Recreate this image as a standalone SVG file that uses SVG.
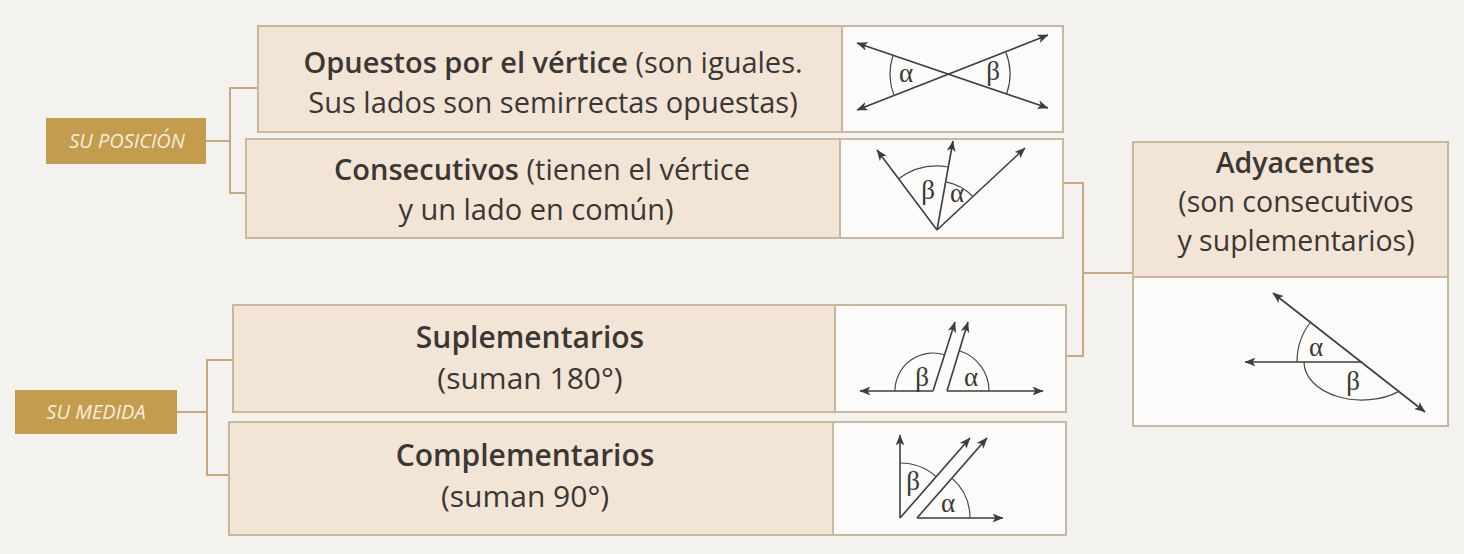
<svg xmlns="http://www.w3.org/2000/svg" width="1464" height="554" viewBox="0 0 1464 554">
<style>
.bg{fill:#f4f2ee}
.cell{fill:#f2e5d6;stroke:#cbb89c;stroke-width:2}
.fig{fill:#fbfbf9;stroke:#cbb89c;stroke-width:2}
.lab{fill:#c49c4e}
.labt{font-family:"Open Sans","Noto Sans",sans-serif;font-style:italic;font-weight:500;font-size:20px;fill:#f7eedc;text-anchor:middle}
.t{font-family:"Open Sans","Noto Sans",sans-serif;font-size:29px;fill:#3a3734;text-anchor:middle}
.b{font-weight:600}
.conn{fill:none;stroke:#c7aa7c;stroke-width:2}
.ln{fill:none;stroke:#3f3d3b;stroke-width:1.6}
.arc{fill:none;stroke:#4a4846;stroke-width:1.2}
.g{font-family:"Liberation Serif","DejaVu Serif",serif;font-size:27px;fill:#3a3734;text-anchor:middle}
</style>
<defs>
<marker id="ah" viewBox="0 0 10 8" refX="9.5" refY="4" markerWidth="11" markerHeight="9" orient="auto-start-reverse" markerUnits="userSpaceOnUse">
<path d="M0,0 L10,4 L0,8 L2.5,4 z" fill="#3f3d3b"/>
</marker>
</defs>
<rect class="bg" x="0" y="0" width="1464" height="554"/>

<g id="connectors">
<path class="conn" d="M206,141 H230 M258,88 H230 V193 H246"/>
<path class="conn" d="M177,412 H207 M233,360 H207 V475 H229"/>
<path class="conn" d="M1063,183 H1083 V356 H1066 M1083,273 H1133"/>
</g>

<g id="label-posicion">
<rect class="lab" x="46" y="118" width="160" height="46"/>
<text class="labt" x="127" y="148">SU POSICIÓN</text>
</g>

<g id="label-medida">
<rect class="lab" x="15" y="390" width="162" height="44"/>
<text class="labt" x="96" y="419">SU MEDIDA</text>
</g>

<g id="row-opuestos">
<rect class="cell" x="258" y="26" width="805" height="106"/>
<rect class="fig" x="842" y="26" width="221" height="106"/>
<text class="t" x="553" y="73"><tspan class="b">Opuestos por el vértice</tspan> (son iguales.</text>
<text class="t" x="553" y="113">Sus lados son semirrectas opuestas)</text>
<g transform="translate(0,5)">
<line class="ln" x1="857" y1="38" x2="1048" y2="103" marker-start="url(#ah)" marker-end="url(#ah)"/>
<line class="ln" x1="857" y1="105" x2="1048" y2="30" marker-start="url(#ah)" marker-end="url(#ah)"/>
<path class="arc" d="M893.1,50 A60,60 0 0 0 894.1,90.7"/>
<path class="arc" d="M1005.7,46.8 A60,60 0 0 1 1006.7,88.7"/>
<text class="g" x="906" y="77">α</text>
<text class="g" x="993" y="75">β</text>
</g>
</g>

<g id="row-consecutivos">
<rect class="cell" x="246" y="139" width="817" height="99"/>
<rect class="fig" x="840" y="139" width="223" height="99"/>
<text class="t" x="542" y="180"><tspan class="b">Consecutivos</tspan> (tienen el vértice</text>
<text class="t" x="536" y="220">y un lado en común)</text>
<g transform="translate(0,3)">
<line class="ln" x1="937" y1="227" x2="877" y2="147" marker-end="url(#ah)"/>
<line class="ln" x1="937" y1="227" x2="953" y2="138" marker-end="url(#ah)"/>
<line class="ln" x1="937" y1="227" x2="1025" y2="145" marker-end="url(#ah)"/>
<path class="arc" d="M898.6,175.8 A64,64 0 0 1 948.3,164"/>
<path class="arc" d="M945.7,178.8 A49,49 0 0 1 972.9,193.6"/>
<text class="g" x="928" y="196">β</text>
<text class="g" x="957" y="199">α</text>
</g>
</g>

<g id="row-suplementarios">
<rect class="cell" x="233" y="305" width="833" height="107"/>
<rect class="fig" x="835" y="305" width="231" height="107"/>
<text class="t b" x="530" y="348" style="font-size:30px">Suplementarios</text>
<text class="t" x="530" y="389" style="font-size:30px">(suman 180°)</text>
<line class="ln" x1="933" y1="391" x2="860" y2="391" marker-end="url(#ah)"/>
<line class="ln" x1="933" y1="391" x2="955" y2="322" marker-end="url(#ah)"/>
<line class="ln" x1="947" y1="391" x2="968" y2="322" marker-end="url(#ah)"/>
<line class="ln" x1="947" y1="391" x2="1043" y2="391" marker-end="url(#ah)"/>
<path class="arc" d="M895,391 A38,38 0 0 1 944.6,354.8"/>
<path class="arc" d="M959.2,350.8 A42,42 0 0 1 989,391"/>
<text class="g" x="922" y="386">β</text>
<text class="g" x="971" y="386">α</text>
</g>

<g id="row-complementarios">
<rect class="cell" x="229" y="422" width="837" height="113"/>
<rect class="fig" x="833" y="422" width="233" height="113"/>
<text class="t b" x="525" y="466" style="font-size:30px">Complementarios</text>
<text class="t" x="525" y="507" style="font-size:30px">(suman 90°)</text>
<line class="ln" x1="900" y1="518" x2="900" y2="435" marker-end="url(#ah)"/>
<line class="ln" x1="900" y1="518" x2="970" y2="438" marker-end="url(#ah)"/>
<line class="ln" x1="917" y1="518" x2="987" y2="438" marker-end="url(#ah)"/>
<line class="ln" x1="917" y1="518" x2="1003" y2="518" marker-end="url(#ah)"/>
<path class="arc" d="M900,463 A55,55 0 0 1 936.2,476.6"/>
<path class="arc" d="M951.9,478.1 A53,53 0 0 1 970,518"/>
<text class="g" x="913" y="490">β</text>
<text class="g" x="948" y="512">α</text>
</g>

<g id="node-adyacentes">
<rect class="fig" x="1133" y="142" width="315" height="284"/>
<rect class="cell" x="1133" y="142" width="315" height="135"/>
<text class="t b" x="1295" y="173" style="font-size:28.5px">Adyacentes</text>
<text class="t" x="1296" y="212" style="font-size:28.5px">(son consecutivos</text>
<text class="t" x="1296" y="251" style="font-size:28.5px">y suplementarios)</text>
<line class="ln" x1="1273" y1="293" x2="1425" y2="412" marker-start="url(#ah)" marker-end="url(#ah)"/>
<line class="ln" x1="1362" y1="362" x2="1245" y2="362" marker-end="url(#ah)"/>
<path class="arc" d="M1297,362 A65,65 0 0 1 1310.6,322"/>
<path class="arc" d="M1304,362 A58,38 0 0 0 1399.4,391.1"/>
<text class="g" x="1316" y="356">α</text>
<text class="g" x="1353" y="390">β</text>
</g>
</svg>
